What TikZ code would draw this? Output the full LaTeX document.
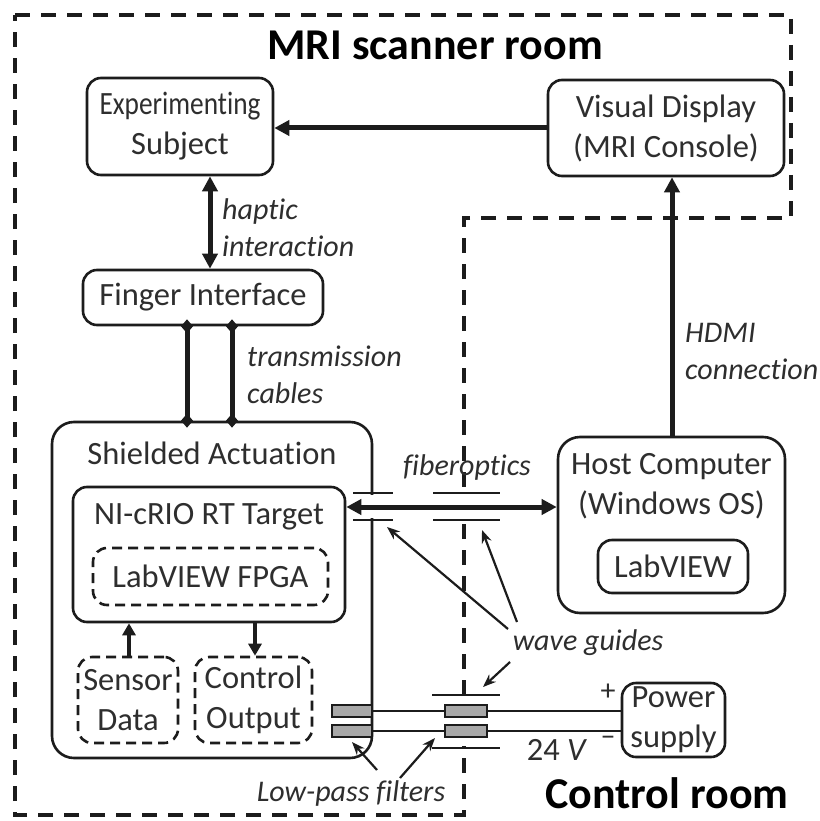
\documentclass[tikz,border=0pt]{standalone}
\usepackage{fontspec}
\usepackage{graphicx}
\setmainfont{Carlito}[Ligatures=NoCommon]
\usetikzlibrary{arrows.meta,calc}
\definecolor{ink}{HTML}{1C1C1C}
\definecolor{txt}{HTML}{2E2E2E}
\definecolor{filtergray}{HTML}{A8A8A8}

\begin{document}
\begin{tikzpicture}[x=1pt,y=-1pt,
  every node/.style={font=\fontsize{32.5}{40}\selectfont, text=txt, align=center, inner sep=0pt},
  box/.style={draw=ink, line width=2.6pt, rounded corners=14pt},
  dbox/.style={box, dash pattern=on 10pt off 6pt},
  lbl/.style={font=\fontsize{30}{37}\selectfont\itshape, align=left},
  title/.style={font=\fontsize{44}{50}\selectfont\bfseries, text=black},
  flow/.style={draw=ink, line width=5pt, -{Triangle[length=15pt,width=15pt]}},
  twoway/.style={draw=ink, line width=5pt, {Triangle[length=15pt,width=15pt]}-{Triangle[length=15pt,width=15pt]}},
  smallflow/.style={draw=ink, line width=4pt, -{Triangle[length=12pt,width=13pt]}},
  cable/.style={draw=ink, line width=5pt},
  pointer/.style={draw=ink, line width=2.2pt, -{Stealth[length=13pt,width=10pt]}},
  guide/.style={draw=ink, line width=2.6pt},
  wall/.style={draw=ink, line width=4pt, dash pattern=on 15pt off 11pt},
  wire/.style={draw=ink, line width=2.6pt},
  filter/.style={draw=ink, line width=2pt, fill=filtergray}]

\useasboundingbox[fill=white] (0,0) rectangle (819,821);

% room boundary of the scanner room
\draw[wall] (15,15) -- (791,15) -- (791,218) -- (464,218) -- (464,815) -- (15,815) -- cycle;
% openings where the wave guides pass the wall
\fill[white] (456,495) rectangle (472,518);
\fill[white] (456,697) rectangle (472,746);

% titles
\node[title] (mritl) at (435,45) {MRI scanner room};
\node[title] (ctrltl) at (667,793) {Control room};

% blocks
\node[box, minimum width=186pt, minimum height=97pt] (exp) at (180,126.5) {\scalebox{0.84}[1]{Experimenting}\\Subject};
\node[box, minimum width=236pt, minimum height=96pt] (vis) at (666,128) {Visual Display\\(MRI Console)};
\node[box, minimum width=240pt, minimum height=55pt] (finger) at (203,297.5) {Finger Interface};

\node[box, rounded corners=22pt, minimum width=320pt, minimum height=336pt] (shield) at (212,590) {};
\node (shieldtx) at (212,453) {Shielded Actuation};
\node[box, minimum width=272pt, minimum height=135pt] (rio) at (209,554.5) {};
\node (riotx) at (209,517) {NI-cRIO RT Target};
\node[dbox, minimum width=235pt, minimum height=57pt] (fpga) at (210.5,576.5) {LabVIEW FPGA};
\node[dbox, minimum width=100pt, minimum height=86pt] (sensor) at (128,700) {Sensor\\Data};
\node[dbox, minimum width=117pt, minimum height=86pt] (ctrl) at (253.5,700) {Control\\Output};

\node[box, rounded corners=22pt, minimum width=227pt, minimum height=176pt] (host) at (671.5,525) {};
\node (hosttx) at (671.5,486) {Host Computer\\(Windows OS)};
\node[box, minimum width=150pt, minimum height=53pt] (lv) at (673,566.5) {LabVIEW};

\node[box, minimum width=103pt, minimum height=74pt] (psu) at (673.5,720) {Power\\supply};

% gap in the shield where the fibre guide enters
\fill[white] (365,495) rectangle (379,518);

% reference columns and rows for connectors
\coordinate (hx) at (210,0);
\coordinate (hdx) at (672,0);
\coordinate (c1) at (187,0);
\coordinate (c2) at (232,0);
\coordinate (sx) at (129,0);
\coordinate (cx) at (255,0);
\coordinate (fy) at (0,507);
\coordinate (w1) at (0,711);
\coordinate (w2) at (0,731);

% connectors
\draw[flow] (vis.west) -- (vis.west -| exp.east);
\draw[twoway] (exp.south -| hx) -- (finger.north -| hx);
\draw[flow] (host.north -| hdx) -- (vis.south -| hdx);
\draw[twoway] (rio.east |- fy) -- (host.west |- fy);
\draw[smallflow] (sensor.north -| sx) -- (rio.south -| sx);
\draw[smallflow] (rio.south -| cx) -- (ctrl.north -| cx);

% transmission cables with joints
\foreach \c in {c1,c2} {
  \draw[cable] (finger.south -| \c) -- (shield.north -| \c);
  \fill[ink] (finger.south -| \c) ++(0,-7) -- ++(6,7) -- ++(-6,7) -- ++(-6,-7) -- cycle;
  \fill[ink] (shield.north -| \c) ++(0,-7) -- ++(6,7) -- ++(-6,7) -- ++(-6,-7) -- cycle;
}

% power wires and low-pass filters
\draw[wire] (shield.east |- w1) -- (psu.west |- w1);
\draw[wire] (shield.east |- w2) -- (psu.west |- w2);
\filldraw[filter] (332,705) rectangle (372,717);
\filldraw[filter] (332,725) rectangle (372,737);
\filldraw[filter] (445,705) rectangle (487,717);
\filldraw[filter] (445,725) rectangle (487,737);

% wave guides
\draw[guide] (353,493) -- (393,493);
\draw[guide] (353,520) -- (393,520);
\draw[guide] (433,493) -- (500,493);
\draw[guide] (433,520) -- (500,520);
\draw[guide] (432,695) -- (500,695);
\draw[guide] (432,748) -- (500,748);

% labels
\node[lbl, anchor=west] (hapl) at (222,228) {haptic\\interaction};
\node[lbl, anchor=west] (trl) at (247,375) {transmission\\cables};
\node[lbl, anchor=west] (hdmil) at (685,351) {HDMI\\connection};
\node[lbl] (fibl) at (467,467) {fiberoptics};
\node[lbl] (wgl) at (588,643) {wave guides};
\node[lbl] (lpl) at (351,793) {Low-pass filters};
\node[font=\fontsize{30}{32}\selectfont] (plus) at (608,692) {+};
\node[font=\fontsize{30}{32}\selectfont] (minus) at (608,741) {\textendash};
\node (volt) at (557,750) {24 \textit{V}};

% pointers from the labels
\coordinate (wga) at (508,629);
\coordinate (wgat) at (387,527);
\coordinate (wgb) at (517,622);
\coordinate (wgbt) at (482,530);
\coordinate (wgc) at (510,662);
\coordinate (wgct) at (483,687);
\coordinate (lpa) at (377,770);
\coordinate (lpat) at (352,742);
\coordinate (lpb) at (400,778);
\coordinate (lpbt) at (435,738);
\draw[pointer] (wga) -- (wgat);
\draw[pointer] (wgb) -- (wgbt);
\draw[pointer] (wgc) -- (wgct);
\draw[pointer] (lpa) -- (lpat);
\draw[pointer] (lpb) -- (lpbt);
\end{tikzpicture}
\end{document}
